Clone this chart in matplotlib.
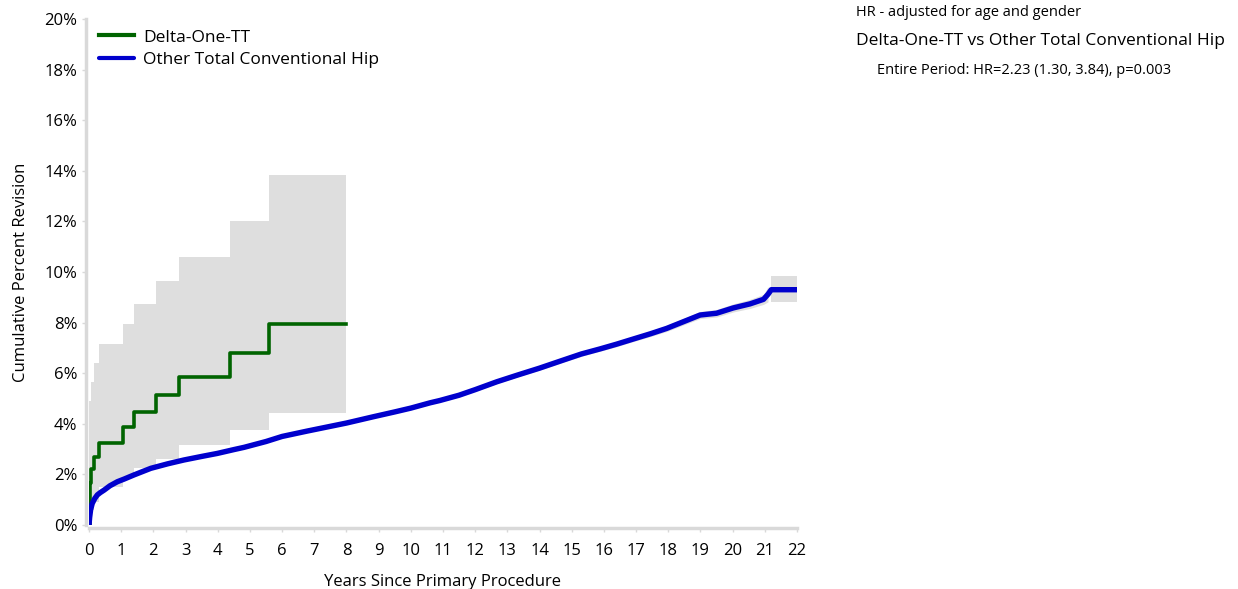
import numpy as np
import matplotlib
matplotlib.use('Agg')
import matplotlib.pyplot as plt
from matplotlib.ticker import FuncFormatter

plt.rcParams['font.family'] = ['Open Sans', 'DejaVu Sans']

# Delta-One-TT (Stufenfunktion, Werte in %)
green_t = [0, 0.03, 0.07, 0.16, 0.31, 1.07, 1.40, 2.07, 2.80, 4.37, 5.59, 8.0]
green_y = [0, 1.65, 2.20, 2.67, 3.25, 3.87, 4.47, 5.12, 5.84, 6.80, 7.93, 7.93]
green_lo = [0, 0.30, 0.60, 0.90, 1.49, 1.90, 2.24, 2.60, 3.16, 3.77, 4.44, 4.44]
green_hi = [4.90, 4.90, 5.66, 6.39, 7.14, 7.93, 8.72, 9.64, 10.58, 12.03, 13.85, 13.85]

# Other Total Conventional Hip
blue_t = [0, 0.02, 0.05, 0.10, 0.18, 0.26, 0.35, 0.47, 0.65, 0.88, 1.10, 1.40, 1.92,
          2.45, 2.95, 3.50, 3.99, 4.50, 4.82, 5.50, 6.00, 6.77, 7.50, 8.00, 8.84, 9.50,
          10.0, 10.6, 10.9, 11.5, 12.0, 12.67, 13.3, 14.0, 14.74, 15.3, 15.88, 16.4,
          16.91, 17.45, 17.95, 18.5, 18.99, 19.5, 20.02, 20.54, 20.96, 21.1, 21.2, 22.0]
blue_y = [0, 0.30, 0.60, 0.85, 1.05, 1.19, 1.28, 1.38, 1.55, 1.71, 1.82, 1.98, 2.24,
          2.42, 2.57, 2.71, 2.83, 2.98, 3.07, 3.30, 3.50, 3.71, 3.90, 4.03, 4.28, 4.47,
          4.62, 4.83, 4.92, 5.13, 5.35, 5.66, 5.92, 6.20, 6.52, 6.76, 6.96, 7.15,
          7.35, 7.56, 7.77, 8.05, 8.30, 8.37, 8.58, 8.74, 8.92, 9.12, 9.30, 9.30]
blue_hw = [0, 0.02, 0.03, 0.03, 0.03, 0.03, 0.03, 0.03, 0.03, 0.03, 0.03, 0.03, 0.03,
           0.03, 0.03, 0.03, 0.03, 0.04, 0.04, 0.04, 0.04, 0.04, 0.04, 0.05, 0.05, 0.05,
           0.05, 0.06, 0.06, 0.06, 0.07, 0.07, 0.07, 0.08, 0.08, 0.09, 0.09, 0.10,
           0.10, 0.11, 0.12, 0.13, 0.14, 0.15, 0.16, 0.18, 0.20, 0.30, 0.50, 0.50]
blue_end_lo = 8.83
blue_end_hi = 9.84

blue_t = np.array(blue_t)
blue_y = np.array(blue_y)
blue_hw = np.array(blue_hw)

fig = plt.figure(figsize=(12.38, 5.89), dpi=100)
ax = fig.add_axes([89 / 1238, 1 - 525 / 589, (797 - 89) / 1238, (525 - 19) / 589])

band = '#dedede'
ax.fill_between(green_t, green_lo, green_hi, step='post', color=band, lw=0)
ax.fill_between(blue_t[:-2], (blue_y - blue_hw)[:-2], (blue_y + blue_hw)[:-2], color=band, lw=0)
ax.fill_between(blue_t[-2:], blue_end_lo, blue_end_hi, color=band, lw=0)

ax.step(green_t, green_y, where='post', color='#006400', lw=2.6, label='Delta-One-TT')
ax.plot(blue_t, blue_y, color='#0000cd', lw=3.9, solid_capstyle='round',
        label='Other Total Conventional Hip')

ax.set_xlim(0, 22)
ax.set_ylim(0, 20)
ax.set_xticks(range(0, 23))
ax.set_yticks(range(0, 21, 2))
ax.yaxis.set_major_formatter(FuncFormatter(lambda v, p: '%d%%' % v))
ax.tick_params(labelsize=12, colors='#d9d9d9', labelcolor='black', length=3, width=1)
ax.tick_params(axis='x', pad=8)

for s in ['top', 'right']:
    ax.spines[s].set_visible(False)
for s in ['left', 'bottom']:
    ax.spines[s].set_color('#d9d9d9')
    ax.spines[s].set_linewidth(2.5)
    ax.spines[s].set_position(('outward', 2))

ax.set_xlabel('Years Since Primary Procedure', fontsize=12, labelpad=11)
ax.set_ylabel('Cumulative Percent Revision', fontsize=12, labelpad=11)

leg = ax.legend(loc='upper left', frameon=False, fontsize=12.5, handlelength=2.0,
                borderaxespad=0.2, handletextpad=0.5, labelspacing=0.35,
                bbox_to_anchor=(0.0, 1.0))
for h in leg.get_lines():
    h.set_linewidth(3.0)

fig.text(856 / 1238, 1 - 12 / 589, 'HR - adjusted for age and gender',
         fontsize=10.5, va='center', ha='left')
fig.text(856 / 1238, 1 - 41 / 589, 'Delta-One-TT vs Other Total Conventional Hip',
         fontsize=12.5, va='center', ha='left')
fig.text(877 / 1238, 1 - 71 / 589, 'Entire Period: HR=2.23 (1.30, 3.84), p=0.003',
         fontsize=10.5, va='center', ha='left')

fig.savefig('out.png', dpi=100)
